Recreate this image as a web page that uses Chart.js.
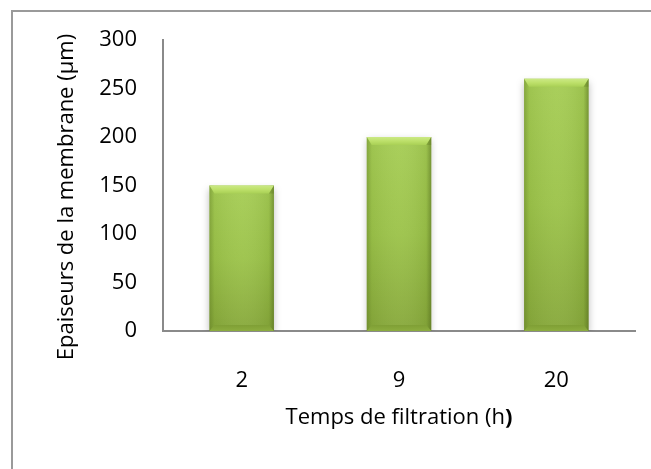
<!DOCTYPE html>
<html>
<head>
<meta charset="utf-8">
<script src="https://cdn.jsdelivr.net/npm/chart.js@4/dist/chart.umd.min.js"></script>
<style>
  html, body { margin: 0; padding: 0; background: #fff; }
  #wrap { width: 651px; height: 469px; position: relative; }
</style>
</head>
<body>
<div id="wrap"><canvas id="c"></canvas></div>
<script>
// Filtration time categories (hours) and measured membrane thickness (µm)
const categories = ['2', '9', '20'];
const thickness = [150, 200, 260];
const yTicks = [0, 50, 100, 150, 200, 250, 300];
const xTitle = 'Temps de filtration (h';
const xTitleBold = ')';
const yTitle = 'Epaiseurs de la membrane (µm)';

const FONT = '"Open Sans", "Liberation Sans", sans-serif';
const FONT_SIZE = 22;
const AXIS_GRAY = '#8a8a8a';
const BAR_FRACTION = 0.41;

// Vertical green gradient: lighter near the top of each bar, darker at its base
function barGradient(ctx) {
  const chart = ctx.chart;
  const ys = chart.scales && chart.scales.y;
  if (!chart.chartArea || !ys || ctx.dataIndex === undefined) return '#9cc44b';
  const top = ys.getPixelForValue(thickness[ctx.dataIndex]);
  const base = ys.getPixelForValue(0);
  if (!isFinite(top) || !isFinite(base)) return '#9cc44b';
  const g = chart.ctx.createLinearGradient(0, top, 0, base);
  g.addColorStop(0, '#a6cd55');
  g.addColorStop(0.5, '#9cc34a');
  g.addColorStop(1, '#87a83b');
  return g;
}

// Chart frame (top and left edges of the outer box)
const framePlugin = {
  id: 'frame',
  beforeDraw(chart) {
    const c = chart.ctx;
    c.save();
    c.strokeStyle = '#9a9a9a';
    c.lineWidth = 2;
    c.beginPath();
    c.moveTo(12, 475);
    c.lineTo(12, 11);
    c.lineTo(660, 11);
    c.stroke();
    c.restore();
  }
};

// Soft drop shadow under the bars, then bevelled edges on top
const bevelPlugin = {
  id: 'bevel',
  beforeDatasetsDraw(chart) {
    const c = chart.ctx;
    c.save();
    c.shadowColor = 'rgba(0,0,0,0.25)';
    c.shadowBlur = 7;
    c.shadowOffsetX = 0;
    c.shadowOffsetY = 3;
  },
  afterDatasetsDraw(chart) {
    const c = chart.ctx;
    c.restore();
    const meta = chart.getDatasetMeta(0);
    const bt = 8, bs = 5, bb = 6;
    meta.data.forEach(bar => {
      const { x, y, base, width } = bar.getProps(['x', 'y', 'base', 'width'], true);
      if (![x, y, base, width].every(isFinite)) return;
      const l = x - width / 2, r = x + width / 2, t = y, btm = base;
      c.save();
      // darkened side edges
      let g = c.createLinearGradient(l, 0, r, 0);
      g.addColorStop(0, 'rgba(70,95,20,0.35)');
      g.addColorStop(0.08, 'rgba(70,95,20,0.08)');
      g.addColorStop(0.5, 'rgba(255,255,255,0.04)');
      g.addColorStop(0.92, 'rgba(70,95,20,0.1)');
      g.addColorStop(1, 'rgba(60,80,15,0.45)');
      c.fillStyle = g;
      c.fillRect(l, t, width, btm - t);
      // top bevel
      g = c.createLinearGradient(0, t, 0, t + bt);
      g.addColorStop(0, '#cbe985');
      g.addColorStop(0.5, '#bde06a');
      g.addColorStop(1, '#a9d055');
      c.fillStyle = g;
      c.beginPath();
      c.moveTo(l, t); c.lineTo(r, t); c.lineTo(r - bs, t + bt); c.lineTo(l + bs, t + bt); c.closePath();
      c.fill();
      // right edge of the top bevel slightly shaded
      c.fillStyle = 'rgba(80,105,25,0.25)';
      c.beginPath();
      c.moveTo(r, t); c.lineTo(r - bs, t + bt); c.lineTo(r, t + bt); c.closePath();
      c.fill();
      // bottom bevel
      g = c.createLinearGradient(0, btm - bb, 0, btm);
      g.addColorStop(0, '#7f9f35');
      g.addColorStop(1, '#8cad3f');
      c.fillStyle = g;
      c.beginPath();
      c.moveTo(l, btm); c.lineTo(r, btm); c.lineTo(r - bs, btm - bb); c.lineTo(l + bs, btm - bb); c.closePath();
      c.fill();
      c.restore();
    });
  }
};

// Axis titles (x title has a bold closing parenthesis)
const titlesPlugin = {
  id: 'titles',
  afterDraw(chart) {
    const c = chart.ctx;
    const area = chart.chartArea;
    c.save();
    c.fillStyle = '#000';
    c.textBaseline = 'middle';
    const normal = FONT_SIZE + 'px ' + FONT;
    const bold = 'bold ' + FONT_SIZE + 'px ' + FONT;
    c.font = normal;
    const w1 = c.measureText(xTitle).width;
    c.font = bold;
    const w2 = c.measureText(xTitleBold).width;
    const cx = (area.left + area.right) / 2;
    const sx = cx - (w1 + w2) / 2;
    c.textAlign = 'left';
    c.font = normal;
    c.fillText(xTitle, sx, 418);
    c.font = bold;
    c.fillText(xTitleBold, sx + w1, 418);
    // rotated y title
    c.font = normal;
    c.translate(67, 197);
    c.rotate(-Math.PI / 2);
    c.textAlign = 'center';
    c.fillText(yTitle, 0, 0);
    c.restore();
  }
};

new Chart(document.getElementById('c'), {
  type: 'bar',
  data: {
    labels: categories,
    datasets: [{
      data: thickness,
      backgroundColor: barGradient,
      borderWidth: 0,
      categoryPercentage: 1.0,
      barPercentage: BAR_FRACTION
    }]
  },
  options: {
    responsive: true,
    maintainAspectRatio: false,
    animation: false,
    layout: { autoPadding: false, padding: { left: 0, top: 40, right: 16, bottom: 0 } },
    plugins: { legend: { display: false }, tooltip: { enabled: false } },
    scales: {
      x: {
        grid: { display: false, drawTicks: false },
        border: { display: true, color: AXIS_GRAY, width: 2 },
        ticks: { color: '#000', font: { family: FONT, size: FONT_SIZE }, padding: 37 },
        afterFit(scale) { scale.height = 469 - 331; }
      },
      y: {
        min: 0,
        max: 300,
        afterBuildTicks(scale) { scale.ticks = yTicks.map(v => ({ value: v })); },
        grid: { display: false, drawTicks: false },
        border: { display: true, color: AXIS_GRAY, width: 2 },
        ticks: { color: '#000', font: { family: FONT, size: FONT_SIZE }, padding: 26 },
        afterFit(scale) { scale.width = 163; }
      }
    }
  },
  plugins: [framePlugin, bevelPlugin, titlesPlugin]
});
</script>
</body>
</html>
